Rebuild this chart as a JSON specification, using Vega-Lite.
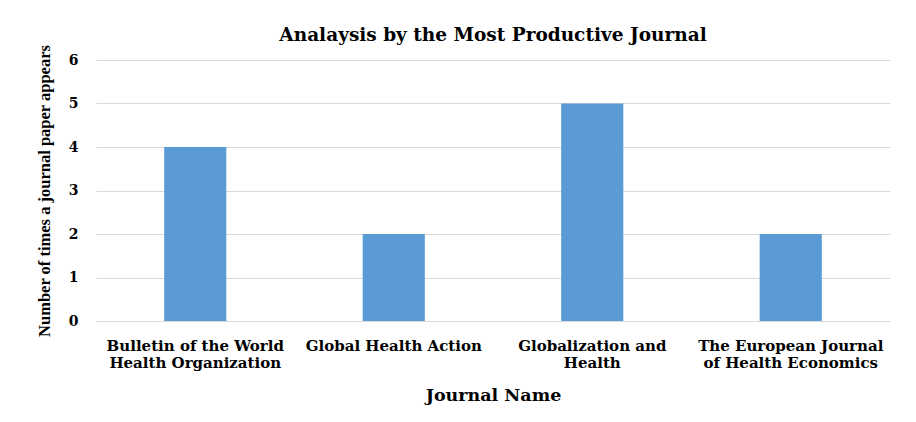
{
  "$schema": "https://vega.github.io/schema/vega-lite/v6.json",
  "width": 916,
  "height": 422,
  "autosize": {"type": "fit", "contains": "padding"},
  "padding": {"left": 36, "right": 26, "top": 34, "bottom": 18},
  "background": "white",
  "title": {
    "text": "Analaysis by the Most Productive Journal",
    "font": "DejaVu Serif",
    "fontSize": 18.5,
    "fontWeight": "bold",
    "color": "#000000",
    "anchor": "middle",
    "offset": 0
  },
  "data": {
    "values": [
      {"journal": "Bulletin of the World Health Organization", "count": 4},
      {"journal": "Global Health Action", "count": 2},
      {"journal": "Globalization and Health", "count": 5},
      {"journal": "The European Journal of Health Economics", "count": 2}
    ]
  },
  "mark": {"type": "bar", "color": "#5B9BD5"},
  "encoding": {
    "x": {
      "field": "journal",
      "type": "nominal",
      "sort": null,
      "title": "Journal Name",
      "scale": {"paddingInner": 0.687, "paddingOuter": 0.3435},
      "axis": {
        "labelAngle": 0,
        "labelFont": "DejaVu Serif",
        "labelFontSize": 15,
        "labelFontWeight": "bold",
        "labelColor": "#000000",
        "labelPadding": 17,
        "labelLineHeight": 17,
        "labelLimit": 0,
        "labelExpr": "datum.label == 'Bulletin of the World Health Organization' ? ['Bulletin of the World', 'Health Organization'] : datum.label == 'Globalization and Health' ? ['Globalization and', 'Health'] : datum.label == 'The European Journal of Health Economics' ? ['The European Journal', 'of Health Economics'] : datum.label",
        "ticks": false,
        "domainColor": "#d9d9d9",
        "domainWidth": 1,
        "titleFont": "DejaVu Serif",
        "titleFontSize": 17.5,
        "titleFontWeight": "bold",
        "titleColor": "#000000",
        "titlePadding": 16
      }
    },
    "y": {
      "field": "count",
      "type": "quantitative",
      "title": "Number of times a journal paper appears",
      "scale": {"domain": [0, 6]},
      "axis": {
        "values": [0, 1, 2, 3, 4, 5, 6],
        "labelFont": "DejaVu Serif",
        "labelFontSize": 14,
        "labelFontWeight": "bold",
        "labelColor": "#000000",
        "labelPadding": 18,
        "ticks": false,
        "domain": false,
        "gridColor": "#d9d9d9",
        "titleFont": "Liberation Serif",
        "titleFontSize": 16.5,
        "titleFontWeight": "bold",
        "titleColor": "#000000",
        "titlePadding": 16
      }
    }
  },
  "config": {
    "view": {"stroke": null}
  }
}
